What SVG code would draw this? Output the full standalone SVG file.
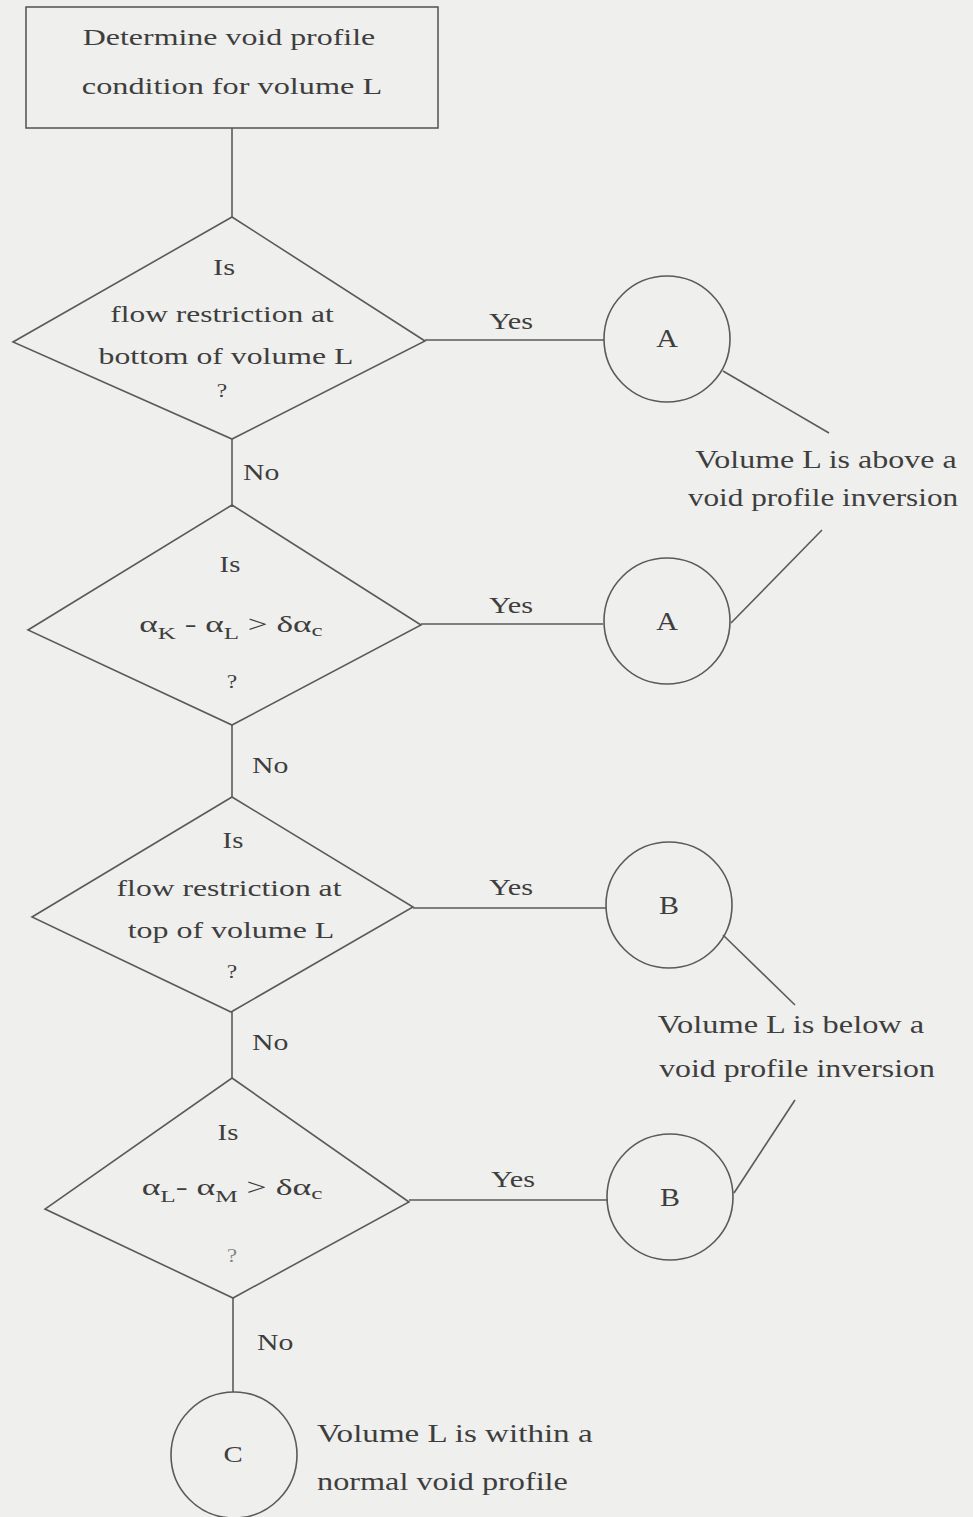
<svg xmlns="http://www.w3.org/2000/svg" width="973" height="1517" viewBox="0 0 973 1517">
  <style>
    .shape { fill: none; stroke: #5a5a5a; stroke-width: 1.6; }
    .wire { fill: none; stroke: #5a5a5a; stroke-width: 1.6; }
    text { font-family: "Liberation Serif", "Times New Roman", serif; fill: #3e3e3e; font-size: 24px; text-anchor: middle; }
    .start { text-anchor: start; }
    .q { font-size: 18px; }
    .sub { font-size: 17px; }
    .letter { font-size: 25px; }
    .note { font-size: 26px; }
  </style>
  <rect x="0" y="0" width="973" height="1517" fill="#efefed"/>

  <!-- Connectors, labels on them and callout leaders.
       Text is set in a widened face: each label is scaled horizontally about its anchor. -->
  <g id="connectors">
    <line class="wire" x1="232" y1="128" x2="232" y2="217"/>
    <line class="wire" x1="232" y1="439" x2="232" y2="505"/>
    <line class="wire" x1="232" y1="725" x2="232" y2="797"/>
    <line class="wire" x1="232" y1="1012" x2="232" y2="1078"/>
    <line class="wire" x1="233" y1="1298" x2="233" y2="1392"/>
    <line class="wire" x1="425" y1="340" x2="604" y2="340"/>
    <line class="wire" x1="421" y1="624" x2="603" y2="624"/>
    <line class="wire" x1="413" y1="908" x2="606" y2="908"/>
    <line class="wire" x1="409" y1="1200" x2="608" y2="1200"/>
    <line class="wire" x1="723" y1="371" x2="829" y2="433"/>
    <line class="wire" x1="822" y1="530" x2="731" y2="623"/>
    <line class="wire" x1="723" y1="935" x2="795" y2="1005"/>
    <line class="wire" x1="795" y1="1100" x2="734" y2="1193"/>
    <text transform="translate(511,329) scale(1.3,1)" textLength="34" lengthAdjust="spacingAndGlyphs">Yes</text>
    <text transform="translate(511,613) scale(1.3,1)" textLength="34" lengthAdjust="spacingAndGlyphs">Yes</text>
    <text transform="translate(511,895) scale(1.3,1)" textLength="34" lengthAdjust="spacingAndGlyphs">Yes</text>
    <text transform="translate(513,1187) scale(1.3,1)" textLength="34" lengthAdjust="spacingAndGlyphs">Yes</text>
    <text class="start" transform="translate(243,480) scale(1.3,1)" textLength="28" lengthAdjust="spacingAndGlyphs">No</text>
    <text class="start" transform="translate(252,773) scale(1.3,1)" textLength="28" lengthAdjust="spacingAndGlyphs">No</text>
    <text class="start" transform="translate(252,1050) scale(1.3,1)" textLength="28" lengthAdjust="spacingAndGlyphs">No</text>
    <text class="start" transform="translate(257,1350) scale(1.3,1)" textLength="28" lengthAdjust="spacingAndGlyphs">No</text>
  </g>

  <g id="start">
    <rect class="shape" x="26" y="7" width="412" height="121"/>
    <text transform="translate(229,45) scale(1.3,1)" textLength="225" lengthAdjust="spacingAndGlyphs">Determine void profile</text>
    <text transform="translate(232,94) scale(1.3,1)" textLength="231" lengthAdjust="spacingAndGlyphs">condition for volume L</text>
  </g>

  <g id="decision-bottom-restriction">
    <polygon class="shape" points="232,217 425,341 232,439 13,342"/>
    <text transform="translate(224,275) scale(1.3,1)" font-size="25" textLength="17" lengthAdjust="spacingAndGlyphs">Is</text>
    <text transform="translate(222,322) scale(1.3,1)" font-size="25" textLength="172" lengthAdjust="spacingAndGlyphs">flow restriction at</text>
    <text transform="translate(226,364) scale(1.3,1)" font-size="25" textLength="196" lengthAdjust="spacingAndGlyphs">bottom of volume L</text>
    <text class="q" transform="translate(222,397) scale(1.3,1)">?</text>
  </g>

  <g id="decision-void-k">
    <polygon class="shape" points="232,505 421,625 232,725 28,630"/>
    <text transform="translate(230,572) scale(1.3,1)" font-size="25" textLength="16" lengthAdjust="spacingAndGlyphs">Is</text>
    <text transform="translate(231,632) scale(1.3,1)" font-size="25" textLength="141" lengthAdjust="spacingAndGlyphs">α<tspan class="sub" dy="7">K</tspan><tspan dy="-7"> - α</tspan><tspan class="sub" dy="7">L</tspan><tspan dy="-7"> &gt; δα</tspan><tspan class="sub" dy="4">c</tspan></text>
    <text class="q" transform="translate(232,688) scale(1.3,1)">?</text>
  </g>

  <g id="decision-top-restriction">
    <polygon class="shape" points="232,797 413,907 231,1012 32,917"/>
    <text transform="translate(233,848) scale(1.3,1)" font-size="25" textLength="16" lengthAdjust="spacingAndGlyphs">Is</text>
    <text transform="translate(229,896) scale(1.3,1)" font-size="25" textLength="173" lengthAdjust="spacingAndGlyphs">flow restriction at</text>
    <text transform="translate(231,938) scale(1.3,1)" font-size="25" textLength="159" lengthAdjust="spacingAndGlyphs">top of volume L</text>
    <text class="q" transform="translate(232,978) scale(1.3,1)">?</text>
  </g>

  <g id="decision-void-m">
    <polygon class="shape" points="232,1078 409,1202 233,1298 45,1209"/>
    <text transform="translate(228,1140) scale(1.3,1)" font-size="25" textLength="16" lengthAdjust="spacingAndGlyphs">Is</text>
    <text transform="translate(232,1195) scale(1.3,1)" font-size="25" textLength="139" lengthAdjust="spacingAndGlyphs">α<tspan class="sub" dy="7">L</tspan><tspan dy="-7">- α</tspan><tspan class="sub" dy="7">M</tspan><tspan dy="-7"> &gt; δα</tspan><tspan class="sub" dy="4">c</tspan></text>
    <text class="q" transform="translate(232,1262) scale(1.3,1)" fill-opacity="0.6">?</text>
  </g>

  <g id="connector-a1">
    <circle class="shape" cx="667" cy="339" r="63"/>
    <text class="letter" transform="translate(667,347) scale(1.2,1)">A</text>
  </g>
  <g id="connector-a2">
    <circle class="shape" cx="667" cy="621" r="63"/>
    <text class="letter" transform="translate(667,630) scale(1.2,1)">A</text>
  </g>
  <g id="connector-b1">
    <circle class="shape" cx="669" cy="905" r="63"/>
    <text class="letter" transform="translate(669,914) scale(1.2,1)">B</text>
  </g>
  <g id="connector-b2">
    <circle class="shape" cx="670" cy="1197" r="63"/>
    <text class="letter" transform="translate(670,1206) scale(1.2,1)">B</text>
  </g>
  <g id="connector-c">
    <circle class="shape" cx="234" cy="1455" r="63"/>
    <text transform="translate(233,1462) scale(1.2,1)" font-size="22">C</text>
  </g>

  <g id="note-above">
    <text class="note" transform="translate(826,468) scale(1.3,1)" textLength="201" lengthAdjust="spacingAndGlyphs">Volume L is above a</text>
    <text class="note" transform="translate(823,506) scale(1.2,1)">void profile inversion</text>
  </g>
  <g id="note-below">
    <text class="note" transform="translate(791,1033) scale(1.3,1)" textLength="205" lengthAdjust="spacingAndGlyphs">Volume L is below a</text>
    <text class="note" transform="translate(797,1077) scale(1.3,1)" textLength="212" lengthAdjust="spacingAndGlyphs">void profile inversion</text>
  </g>
  <g id="note-within">
    <text class="start note" transform="translate(317,1442) scale(1.3,1)" textLength="212" lengthAdjust="spacingAndGlyphs">Volume L is within a</text>
    <text class="start note" transform="translate(317,1490) scale(1.3,1)" textLength="193" lengthAdjust="spacingAndGlyphs">normal void profile</text>
  </g>
</svg>
